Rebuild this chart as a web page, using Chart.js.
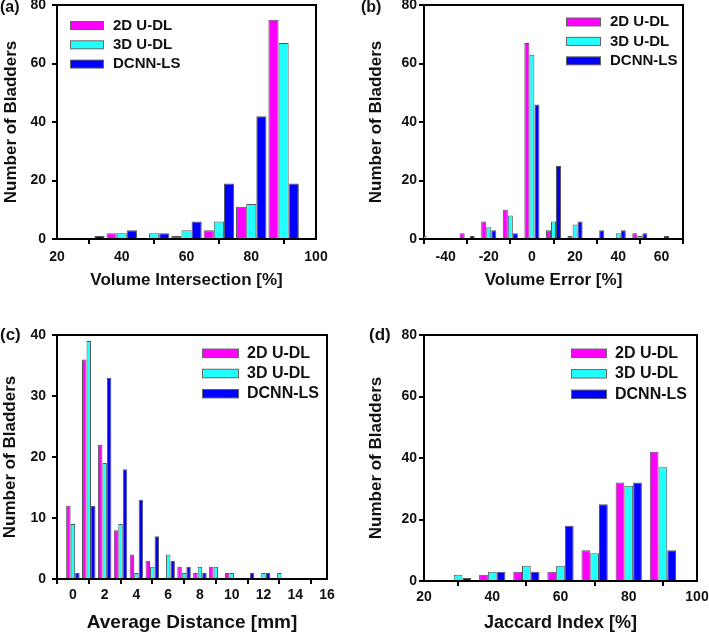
<!DOCTYPE html>
<html>
<head>
<meta charset="utf-8">
<script src="https://cdn.jsdelivr.net/npm/chart.js@4.4.1/dist/chart.umd.min.js"></script>
<style>
  html, body { margin: 0; padding: 0; background: #fff; }
  #page { position: relative; width: 709px; height: 634px; overflow: hidden; }
  .cell { position: absolute; }
  .cell canvas { display: block; }
</style>
</head>
<body>
<div id="page">
  <div class="cell" style="left:0;top:0;width:354px;height:310px"><canvas id="panelA"></canvas></div>
  <div class="cell" style="left:354px;top:0;width:355px;height:310px"><canvas id="panelB"></canvas></div>
  <div class="cell" style="left:0;top:310px;width:354px;height:324px"><canvas id="panelC"></canvas></div>
  <div class="cell" style="left:354px;top:310px;width:355px;height:324px"><canvas id="panelD"></canvas></div>
</div>
<script>
const seriesNames = ['2D U-DL', '3D U-DL', 'DCNN-LS'];

// (a) Volume Intersection [%]
const binsA = [30, 40, 50, 60, 70, 80, 90];
const a2D = [0, 2, 0, 1, 3, 11, 75];
const a3D = [0, 2, 2, 3, 6, 12, 67];
const aDCNN = [1, 3, 2, 6, 19, 42, 19];
const xTicksA = [20, 40, 60, 80, 100];

// (b) Volume Error [%]
const binsB = [-50, -40, -30, -20, -10, 0, 10, 20, 30, 40, 50, 60];
const b2D = [0, 0, 2, 6, 10, 67, 3, 1, 0, 0, 2, 0];
const b3D = [1, 0, 0, 4, 8, 63, 6, 5, 0, 2, 1, 0];
const bDCNN = [0, 0, 1, 3, 2, 46, 25, 6, 3, 3, 2, 1];
const xTicksB = [-40, -20, 0, 20, 40, 60];

// (c) Average Distance [mm]
const binsC = [0, 1, 2, 3, 4, 5, 6, 7, 8, 9, 10, 11, 12, 13];
const c2D = [12, 36, 22, 8, 4, 3, 0, 2, 1, 2, 1, 0, 0, 0];
const c3D = [9, 39, 19, 9, 1, 2, 4, 1, 2, 2, 1, 0, 1, 1];
const cDCNN = [1, 12, 33, 18, 13, 7, 3, 2, 1, 0, 0, 1, 1, 0];
const xTicksC = [0, 2, 4, 6, 8, 10, 12, 14, 16];

// (d) Jaccard Index [%]
const binsD = [30, 40, 50, 60, 70, 80, 90];
const d2D = [0, 2, 3, 3, 10, 32, 42];
const d3D = [2, 3, 5, 5, 9, 31, 37];
const dDCNN = [1, 3, 3, 18, 25, 32, 10];
const xTicksD = [20, 40, 60, 80, 100];

const yTicks80 = [0, 20, 40, 60, 80];
const yTicks40 = [0, 10, 20, 30, 40];

const colors = ['#ff00ff', '#22ffff', '#0000ff'];
const FONT = '"Liberation Sans", Arial, sans-serif';
const INK = '#111';

// top/right frame lines, legend and panel tag
const panelDecor = {
  id: 'panelDecor',
  afterDraw(chart, args, o) {
    const ctx = chart.ctx;
    const xs = chart.scales.x, ys = chart.scales.y;
    ctx.save();
    ctx.strokeStyle = '#000';
    ctx.lineWidth = 2;
    ctx.beginPath();
    ctx.moveTo(xs.left, ys.top);
    ctx.lineTo(xs.right, ys.top);
    ctx.lineTo(xs.right, ys.bottom);
    ctx.stroke();

    ctx.textBaseline = 'middle';
    ctx.textAlign = 'left';
    ctx.font = 'bold ' + o.size + 'px ' + FONT;
    chart.data.datasets.forEach((ds, i) => {
      const y = o.y + i * o.gap;
      ctx.fillStyle = '#666';
      ctx.fillRect(o.x, y - o.h / 2, o.w, o.h);
      ctx.fillStyle = ds.backgroundColor;
      ctx.fillRect(o.x + 1, y - o.h / 2 + 1, o.w - 2, o.h - 2);
      ctx.fillStyle = INK;
      ctx.fillText(ds.label, o.textX, y);
    });
    ctx.font = 'bold ' + o.tagSize + 'px ' + FONT;
    ctx.fillText(o.tag, o.tagX, o.tagY);
    ctx.restore();
  }
};

function pts(bins, vals) {
  return bins.map((x, i) => ({ x: x, y: vals[i] }));
}

function panel(id, p) {
  const el = document.getElementById(id);
  el.width = p.w; el.height = p.h;
  return new Chart(el, {
    type: 'bar',
    data: {
      datasets: p.series.map((vals, i) => ({
        label: seriesNames[i],
        data: pts(p.bins, vals),
        backgroundColor: colors[i],
        borderColor: '#555',
        borderWidth: 1,
        categoryPercentage: p.catPct,
        barPercentage: 1
      }))
    },
    options: {
      responsive: false,
      animation: false,
      events: [],
      layout: { padding: { top: p.padTop, right: p.padRight } },
      plugins: {
        legend: { display: false },
        tooltip: { enabled: false },
        panelDecor: p.decor
      },
      scales: {
        x: {
          type: 'linear',
          offset: false,
          min: p.xMin,
          max: p.xMax,
          afterBuildTicks: s => { s.ticks = p.xTicks.map(v => ({ value: v })); },
          afterFit: s => { s.height = p.xHeight; s.paddingLeft = 0; s.paddingRight = 0; },
          grid: { drawOnChartArea: false, tickLength: 5, color: '#000', lineWidth: 2 },
          border: { display: true, color: '#000', width: 2 },
          ticks: { color: INK, padding: p.xTickPad, maxRotation: 0, font: { family: FONT, size: 14, weight: 'bold' } },
          title: { display: true, text: p.xTitle, color: INK, padding: { top: 0, bottom: p.xTitlePad }, font: { family: FONT, size: p.xTitleSize, weight: 'bold' } }
        },
        y: {
          min: 0,
          max: p.yTicks[p.yTicks.length - 1],
          afterBuildTicks: s => { s.ticks = p.yTicks.map(v => ({ value: v })); },
          afterFit: s => { s.width = p.yWidth; s.paddingTop = 0; s.paddingBottom = 0; },
          grid: { drawOnChartArea: false, tickLength: 5, color: '#000', lineWidth: 2 },
          border: { display: true, color: '#000', width: 2 },
          ticks: { color: INK, padding: p.yTickPad, font: { family: FONT, size: 14, weight: 'bold' } },
          title: { display: true, text: 'Number of Bladders', color: INK, padding: { top: p.yTitlePad, bottom: 0 }, font: { family: FONT, size: 17, weight: 'bold' } }
        }
      }
    },
    plugins: [panelDecor]
  });
}

panel('panelA', {
  w: 354, h: 310,
  bins: binsA, series: [a2D, a3D, aDCNN], catPct: 0.94,
  xMin: 20, xMax: 100, xTicks: xTicksA, yTicks: yTicks80,
  padTop: 5, padRight: 38, xHeight: 71, yWidth: 57,
  xTickPad: 5, yTickPad: 6, xTitle: 'Volume Intersection [%]', xTitleSize: 17, xTitlePad: 19, yTitlePad: 1,
  decor: { x: 70, w: 34, h: 9, y: 25.5, gap: 19.3, textX: 113, size: 15, tag: '(a)', tagX: 0, tagY: 8, tagSize: 16 }
});

panel('panelB', {
  w: 355, h: 310,
  bins: binsB, series: [b2D, b3D, bDCNN], catPct: 0.7,
  xMin: -50, xMax: 70, xTicks: xTicksB, yTicks: yTicks80,
  padTop: 5, padRight: 26, xHeight: 71, yWidth: 70,
  xTickPad: 5, yTickPad: 2, xTitle: 'Volume Error [%]', xTitleSize: 17, xTitlePad: 19, yTitlePad: 12,
  decor: { x: 212, w: 35, h: 9, y: 22, gap: 19.4, textX: 256, size: 15, tag: '(b)', tagX: 7, tagY: 8, tagSize: 16 }
});

panel('panelC', {
  w: 354, h: 324,
  bins: binsC, series: [c2D, c3D, cDCNN], catPct: 0.85,
  xMin: -1, xMax: 16, xTicks: xTicksC, yTicks: yTicks40,
  padTop: 25, padRight: 27, xHeight: 55, yWidth: 57,
  xTickPad: 3, yTickPad: 6, xTitle: 'Average Distance [mm]', xTitleSize: 19, xTitlePad: 0, yTitlePad: 0,
  decor: { x: 202, w: 37, h: 9.5, y: 43.3, gap: 20.2, textX: 247, size: 16, tag: '(c)', tagX: 0, tagY: 25, tagSize: 17 }
});

panel('panelD', {
  w: 355, h: 324,
  bins: binsD, series: [d2D, d3D, dDCNN], catPct: 0.77,
  xMin: 20, xMax: 100, xTicks: xTicksD, yTicks: yTicks80,
  padTop: 25, padRight: 12, xHeight: 53, yWidth: 70,
  xTickPad: 3, yTickPad: 2, xTitle: 'Jaccard Index [%]', xTitleSize: 18, xTitlePad: 0, yTitlePad: 12,
  decor: { x: 217, w: 36, h: 9.5, y: 43.3, gap: 20.5, textX: 261, size: 16, tag: '(d)', tagX: 15, tagY: 25, tagSize: 17 }
});
</script>
</body>
</html>
